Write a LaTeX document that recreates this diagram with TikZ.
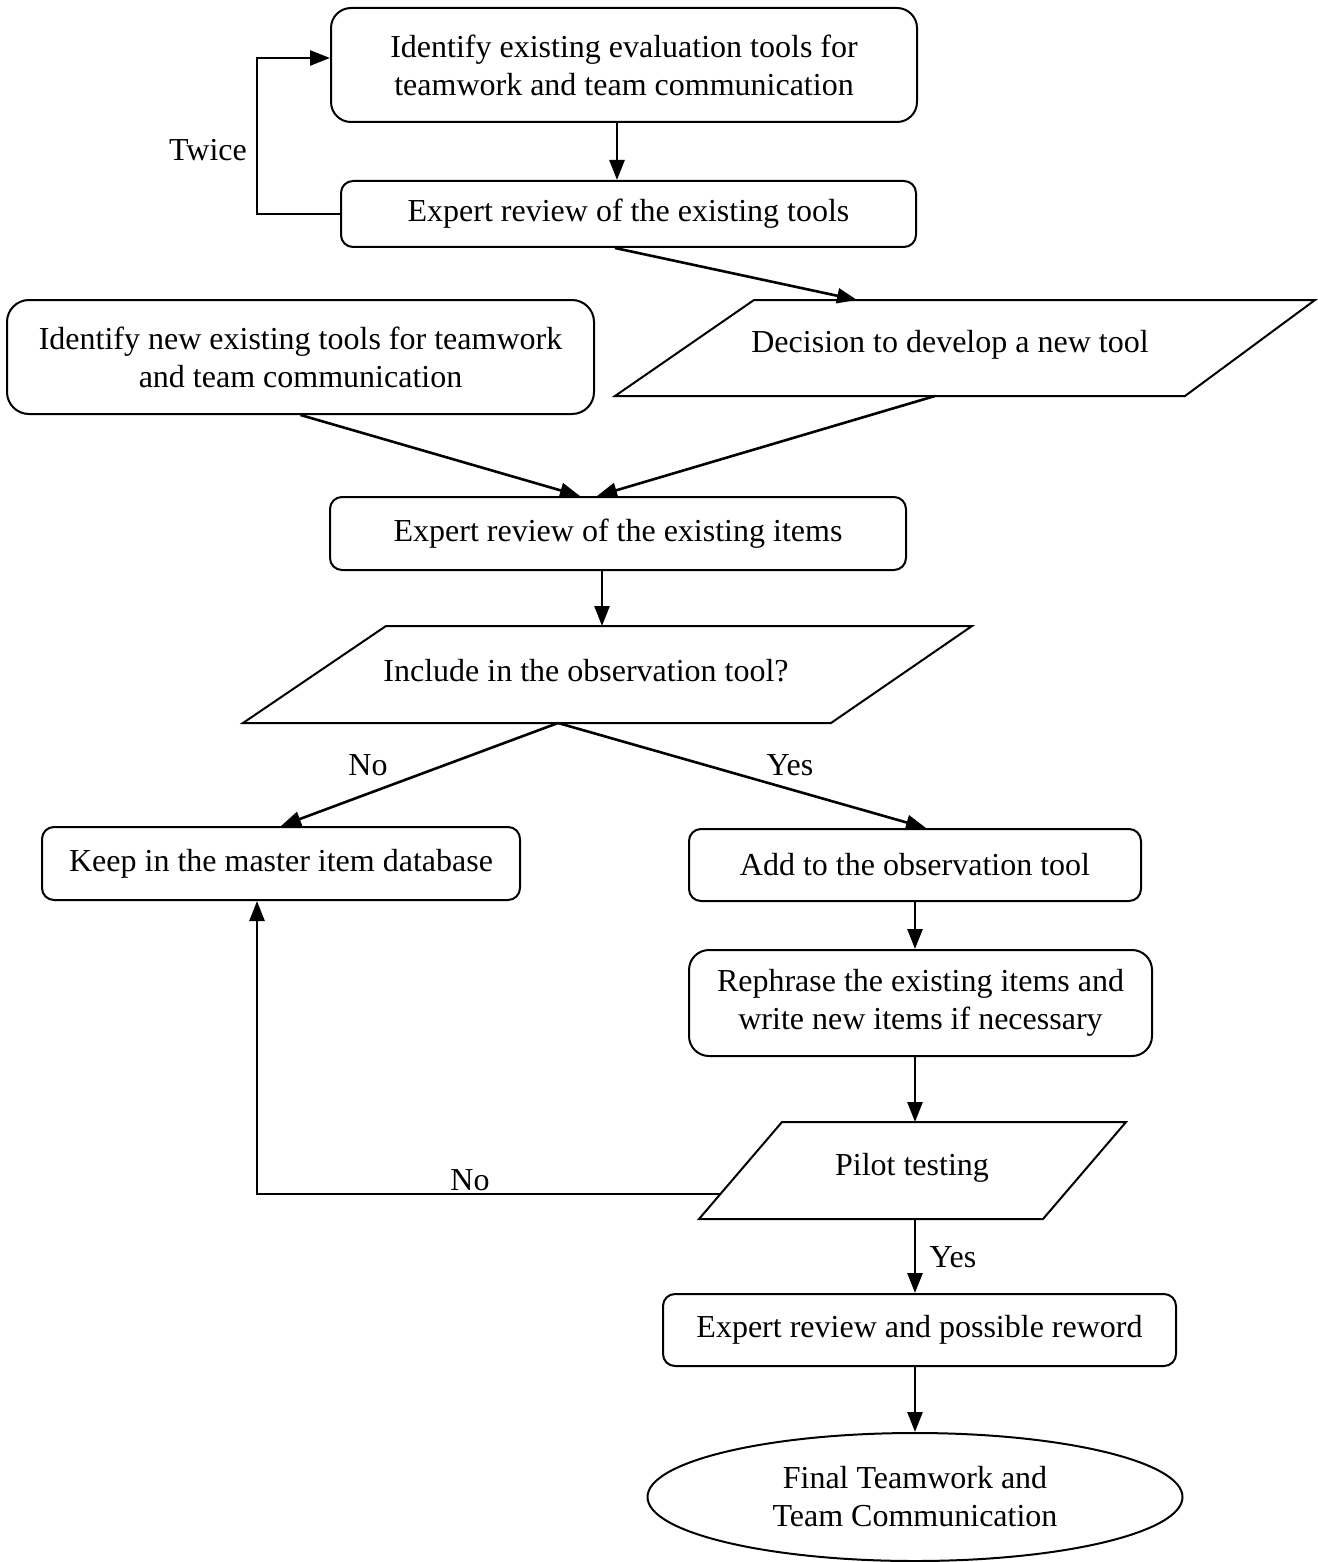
\documentclass[tikz,border=0pt]{standalone}
\usepackage{fontspec}
\setmainfont{Liberation Serif}
\usetikzlibrary{shapes.geometric,arrows.meta,calc}
\begin{document}
\begin{tikzpicture}[x=0.5pt,y=-0.5pt,
  every node/.style={font=\fontsize{16}{19}\selectfont, inner sep=0pt, align=center},
  rbox/.style={draw, line width=1pt, rounded corners=#1, rectangle},
  rbox/.default=6pt,
  pgline/.style={draw, line width=1pt, line join=miter},
  arr/.style={line width=1.3pt, -{Triangle[length=10pt,width=7.5pt]}}]
\useasboundingbox (0,0) rectangle (1317,1562);

% boxes
\node[rbox=10pt, minimum width=293pt, minimum height=57pt] (b1) at (624,65)
  {Identify existing evaluation tools for\\teamwork and team communication};
\node[rbox=6pt, minimum width=287.5pt, minimum height=33pt] (b2) at (628.5,214)
  {Expert review of the existing tools};
\node[rbox=11pt, minimum width=293.5pt, minimum height=57pt] (b3) at (300.5,357)
  {Identify new existing tools for teamwork\\and team communication};
\node[rbox=6pt, minimum width=288pt, minimum height=36.5pt] (b4) at (618,533.5)
  {Expert review of the existing items};
\node[rbox=6pt, minimum width=239pt, minimum height=36.5pt] (b5) at (281,863.5)
  {Keep in the master item database};
\node[rbox=6pt, minimum width=226pt, minimum height=36pt] (b6) at (915,865)
  {Add to the observation tool};
\node[rbox=10pt, minimum width=231.5pt, minimum height=53pt] (b7) at (920.5,1003)
  {Rephrase the existing items and\\write new items if necessary};
\node[rbox=6pt, minimum width=256.5pt, minimum height=36pt] (b8) at (919.5,1330)
  {Expert review and possible reword};
\node[draw, line width=1pt, ellipse, minimum width=267.5pt, minimum height=64pt] (ell) at (915,1497)
  {Final Teamwork and\\Team Communication};

% parallelograms
\draw[pgline] (754,300) -- (1315,300) -- (1185,396) -- (615,396) -- cycle;
\node (dec) at (950,345) {Decision to develop a new tool};
\coordinate (decT) at (857,300);
\coordinate (decB) at (935,396);

\draw[pgline] (386,626) -- (972,626) -- (831,723) -- (243,723) -- cycle;
\node (inc) at (586,671) {Include in the observation tool?};
\coordinate (incT) at (602,626);
\coordinate (incB) at (558,723);

\draw[pgline] (782,1122) -- (1126,1122) -- (1043,1219) -- (699,1219) -- cycle;
\node (pil) at (912,1168) {Pilot testing};
\coordinate (pilT) at (915,1122);
\coordinate (pilB) at (915,1219);
\coordinate (pilL) at (720,1194);

% connectors
\draw[arr] ([xshift=-3.5pt]b1.south) -- ([xshift=-3.5pt]b1.south |- b2.north);
\draw[arr] (b2.west) -- ++(-83,0) |- ([yshift=3.5pt]b1.west);
\node (twice) at (208,150) {Twice};
\draw[arr] ([xshift=-6.75pt]b2.south) -- (decT);
\draw[arr] (b3.south) -- ([xshift=-19pt]b4.north);
\draw[arr] (decB) -- ([xshift=-10.5pt]b4.north);
\draw[arr] ([xshift=-8pt]b4.south) -- (incT);
\draw[arr] (incB) -- (b5.north);
\draw[arr] (incB) -- ([xshift=5.5pt]b6.north);
\node (no1) at (368,765) {No};
\node (yes1) at (790,765) {Yes};
\draw[arr] (b6.south) -- (b6.south |- b7.north);
\draw[arr] (b6.south |- b7.south) -- (pilT);
\draw[arr] (pilL) -- (257,1194) -- ([xshift=-12pt]b5.south);
\node (no2) at (470,1180) {No};
\draw[arr] (pilB) -- (pilB |- b8.north);
\node (yes2) at (953,1257) {Yes};
\draw[arr] (pilB |- b8.south) -- (ell.north);
\end{tikzpicture}
\end{document}
